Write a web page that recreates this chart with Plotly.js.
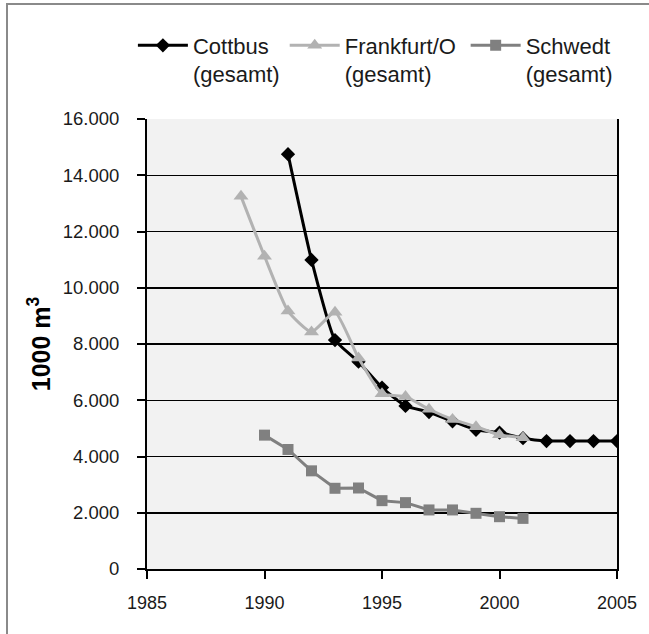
<!DOCTYPE html>
<html>
<head>
<meta charset="utf-8">
<script src="https://cdn.plot.ly/plotly-3.0.1.min.js"></script>
<style>
html,body{margin:0;padding:0;background:#fff;}
#frame{position:absolute;left:6px;top:3px;width:700px;height:700px;border-top:2px solid #8a8a8a;border-left:2px solid #8a8a8a;pointer-events:none;z-index:10;}
#chart{position:absolute;left:0;top:0;width:649px;height:634px;}
</style>
</head>
<body>
<div id="chart"></div>
<div id="frame"></div>
<script>
const cottbusYears = [1991,1992,1993,1994,1995,1996,1997,1998,1999,2000,2001,2002,2003,2004,2005];
const cottbusValues = [14750,10990,8140,7370,6450,5800,5580,5250,4950,4850,4650,4550,4550,4550,4550];
const frankfurtYears = [1989,1990,1991,1992,1993,1994,1995,1996,1997,1998,1999,2000,2001];
const frankfurtValues = [13250,11120,9170,8430,9130,7500,6230,6130,5680,5320,5060,4770,4670];
const schwedtYears = [1990,1991,1992,1993,1994,1995,1996,1997,1998,1999,2000,2001];
const schwedtValues = [4760,4250,3490,2870,2880,2430,2360,2100,2100,1980,1860,1800];
const seriesNames = ['Cottbus<br>(gesamt)','Frankfurt/O<br>(gesamt)','Schwedt<br>(gesamt)'];
const xTicks = [1985,1990,1995,2000,2005];
const yTicks = [0,2000,4000,6000,8000,10000,12000,14000,16000];

const font = 'Liberation Sans, Arial, sans-serif';
const traces = [
  {x: cottbusYears, y: cottbusValues, name: seriesNames[0], type:'scatter', mode:'lines+markers', legend:'legend',
   line:{color:'#000000', width:3, shape:'spline', smoothing:0.5},
   marker:{symbol:'diamond', size:11, color:'#000000'}},
  {x: frankfurtYears, y: frankfurtValues, name: seriesNames[1], type:'scatter', mode:'lines+markers', legend:'legend2',
   line:{color:'#b2b2b2', width:3, shape:'spline', smoothing:0.5},
   marker:{symbol:'triangle-up', size:13, color:'#b2b2b2'}},
  {x: schwedtYears, y: schwedtValues, name: seriesNames[2], type:'scatter', mode:'lines+markers', legend:'legend3',
   line:{color:'#808080', width:3},
   marker:{symbol:'square', size:11, color:'#808080'}}
];

function leg(x){
  return {orientation:'h', x:x, xanchor:'left', y:1.21, yanchor:'top',
          font:{family:font, size:22, color:'#1a1a1a'}, valign:'top',
          itemwidth:50, bgcolor:'rgba(0,0,0,0)'};
}

const layout = {
  width:649, height:634,
  margin:{l:147, r:32, t:119, b:65},
  paper_bgcolor:'#ffffff',
  plot_bgcolor:'#f2f2f2',
  separators:',.',
  font:{family:font, color:'#1a1a1a', size:18},
  showlegend:true,
  legend:leg(-0.030),
  legend2:leg(0.293),
  legend3:leg(0.678),
  xaxis:{range:[1985,2005], tickvals:xTicks, ticktext:xTicks.map(String),
         showgrid:false, zeroline:false, showline:true, linecolor:'#000', linewidth:2,
         ticks:'outside', ticklen:8, tickwidth:2, tickcolor:'#000',
         tickfont:{family:font, size:18, color:'#1a1a1a'}, ticklabelstandoff:8, fixedrange:true},
  yaxis:{range:[0,16000], tickvals:yTicks, tickformat:',d',
         showgrid:true, gridcolor:'#000', gridwidth:1.5, zeroline:false,
         showline:true, linecolor:'#000', linewidth:2, mirror:true,
         ticks:'outside', ticklen:8, tickwidth:2, tickcolor:'#000',
         tickfont:{family:font, size:18.5, color:'#1a1a1a'}, ticklabelstandoff:14,
         title:{text:'<b>1000 m<sup>3</sup></b>', font:{family:font, size:25, color:'#000'}, standoff:5}}
};
Plotly.newPlot('chart', traces, layout, {displayModeBar:false, staticPlot:true});
</script>
</body>
</html>
